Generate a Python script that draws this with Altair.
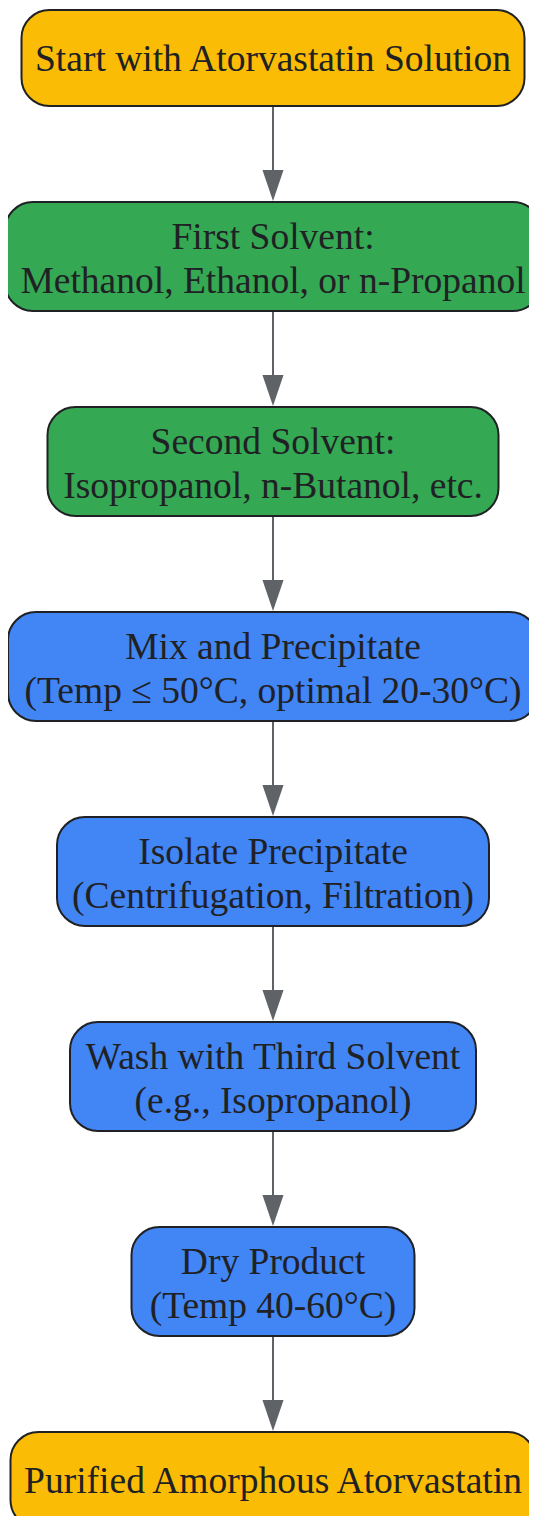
import altair as alt
import pandas as pd

# ---- data ----
step_labels = [
    "Start with Atorvastatin Solution",
    "First Solvent:\nMethanol, Ethanol, or n-Propanol",
    "Second Solvent:\nIsopropanol, n-Butanol, etc.",
    "Mix and Precipitate\n(Temp \u2264 50\u00b0C, optimal 20-30\u00b0C)",
    "Isolate Precipitate\n(Centrifugation, Filtration)",
    "Wash with Third Solvent\n(e.g., Isopropanol)",
    "Dry Product\n(Temp 40-60\u00b0C)",
    "Purified Amorphous Atorvastatin",
]
step_kinds = ["terminal", "solvent", "solvent", "process",
              "process", "process", "process", "terminal"]
kind_names = ["terminal", "solvent", "process"]
kind_colors = ["#FBBC05", "#34A853", "#4285F4"]

# ---- layout (sizes in pixels) ----
box_widths = [503, 536, 451, 530, 432, 406, 283, 525]
CX = 273
TOP = 10
GAP = 96
H_ONE = 96
H_TWO = 109
HEAD_H = 31
LINE_H = 44

rows = []
y = TOP
for lab, kind, w in zip(step_labels, step_kinds, box_widths):
    n_lines = lab.count("\n") + 1
    h = H_TWO if n_lines > 1 else H_ONE
    ty = y + h / 2 + 1.5 + (2 - LINE_H / 2) * (n_lines - 1)
    rows.append(dict(label=lab, kind=kind, cx=CX, x0=CX - w / 2, x1=CX + w / 2,
                     y0=y, y1=y + h, ty=ty))
    y += h + GAP
boxes = pd.DataFrame(rows)

edges = []
for i in range(len(rows) - 1):
    tip = rows[i + 1]["y0"] - 1
    edges.append(dict(x=CX, ys=rows[i]["y1"], ye=tip - HEAD_H + 2,
                      yh=tip - HEAD_H / 2))
edges = pd.DataFrame(edges)

xs = alt.Scale(domain=[8, 529], nice=False, zero=False)
ys = alt.Scale(domain=[8, 1516], nice=False, zero=False, reverse=True)

rects = alt.Chart(boxes).mark_rect(
    cornerRadius=28, stroke="#202124", strokeWidth=2
).encode(
    x=alt.X("x0:Q", scale=xs, axis=None),
    x2="x1:Q",
    y=alt.Y("y0:Q", scale=ys, axis=None),
    y2="y1:Q",
    color=alt.Color("kind:N", scale=alt.Scale(domain=kind_names, range=kind_colors),
                    legend=None),
)

labels = alt.Chart(boxes).mark_text(
    font="Liberation Serif", fontSize=37.5, lineBreak="\n", lineHeight=LINE_H,
    baseline="middle", align="center", color="#202124"
).encode(
    x=alt.X("cx:Q", scale=xs, axis=None),
    y=alt.Y("ty:Q", scale=ys, axis=None),
    text="label:N",
)

lines = alt.Chart(edges).mark_rule(color="#5f6368", strokeWidth=2).encode(
    x=alt.X("x:Q", scale=xs, axis=None),
    y=alt.Y("ys:Q", scale=ys, axis=None),
    y2="ye:Q",
)

heads = alt.Chart(edges).mark_point(
    shape="M-0.68,-1L0.68,-1L0,1Z", filled=True, opacity=1,
    color="#5f6368", size=HEAD_H * HEAD_H, strokeWidth=0
).encode(
    x=alt.X("x:Q", scale=xs, axis=None),
    y=alt.Y("yh:Q", scale=ys, axis=None),
)

chart = alt.layer(lines, heads, rects, labels).properties(
    width=521, height=1508, autosize=alt.AutoSizeParams(type="none"), padding=0
).configure_view(stroke=None)

chart.save("out.html", embed_options={"renderer": "svg", "actions": False})
